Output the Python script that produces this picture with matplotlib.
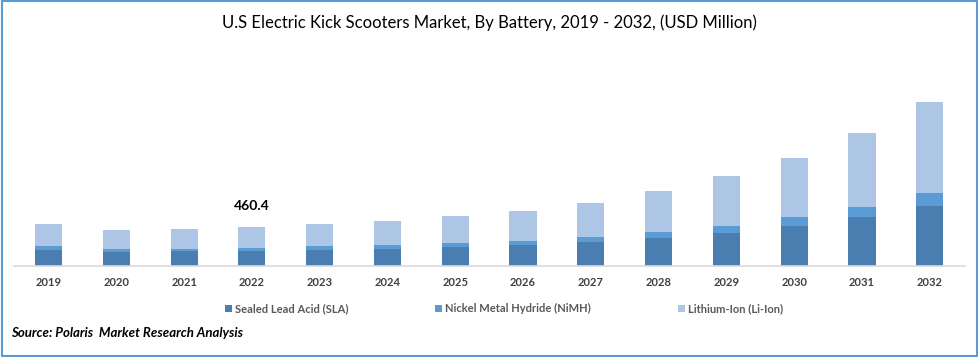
import numpy as np
import matplotlib
matplotlib.use("Agg")
import matplotlib.pyplot as plt
from matplotlib.patches import Rectangle

plt.rcParams['font.family'] = ['Lato', 'DejaVu Sans']

years = ['2019', '2020', '2021', '2022', '2023', '2024', '2025',
         '2026', '2027', '2028', '2029', '2030', '2031', '2032']
sla = [189, 165, 177, 177, 189, 201, 224, 248, 283, 330, 390, 472, 579, 708]
nimh = [47, 35, 24, 35, 47, 47, 47, 47, 59, 71, 83, 106, 118, 154]
li_ion = [260, 224, 236, 248.4, 260, 283, 319, 354, 401, 484, 590, 697, 874, 1075]
series_names = ['Sealed Lead Acid (SLA)', 'Nickel Metal Hydride (NiMH)', 'Lithium-Ion (Li-Ion)']
colors = ['#4A7EB0', '#5B9BD5', '#ADC6E5']
label_year = '2022'

fig = plt.figure(figsize=(9.79, 3.57), dpi=100)
ax = fig.add_axes([0.0143, 0.2549, 0.9714, 0.493])

x = np.arange(len(years))
w = 0.4
sla_a = np.array(sla)
nimh_a = np.array(nimh)
li_a = np.array(li_ion)
b1 = ax.bar(x, sla_a, w, color=colors[0], label=series_names[0])
b2 = ax.bar(x, nimh_a, w, bottom=sla_a, color=colors[1], label=series_names[1])
b3 = ax.bar(x, li_a, w, bottom=sla_a + nimh_a, color=colors[2], label=series_names[2])

# total label on 2022
i = years.index(label_year)
total = sla_a[i] + nimh_a[i] + li_a[i]
ax.text(x[i], total + 175, f'{total:.1f}', ha='center', va='bottom',
        fontsize=10, fontweight='bold', color='black')

ax.set_xlim(-0.51, 13.52)
ax.set_ylim(0, 2077)
ax.set_xticks(x)
ax.set_xticklabels(years, fontsize=8, fontweight='bold', color='#404040')
ax.tick_params(axis='x', length=0, pad=8)
ax.set_yticks([])
for s in ['top', 'right', 'left']:
    ax.spines[s].set_visible(False)
ax.spines['bottom'].set_color('#D9D9D9')
ax.spines['bottom'].set_linewidth(1.2)

fig.text(0.5, 0.935, 'U.S Electric Kick Scooters Market, By Battery, 2019 - 2032, (USD Million)',
         ha='center', va='center', fontsize=12, color='black')

leg = fig.legend(handles=[b1, b2, b3], loc='center', bbox_to_anchor=(0.515, 0.136),
                 ncol=3, frameon=False, fontsize=8, handlelength=0.6, handleheight=0.6,
                 handletextpad=0.3, columnspacing=7.8)
for t in leg.get_texts():
    t.set_color('#595959')
    t.set_fontweight('bold')

fig.text(0.011, 0.068, 'Source: Polaris  Market Research Analysis', ha='left', va='center',
         fontsize=9.5, fontweight='bold', fontstyle='italic', color='black')

fig.patches.append(Rectangle((0.002, 0.003), 0.996, 0.994, transform=fig.transFigure,
                             fill=False, edgecolor='#5B9BD5', linewidth=1.5))

fig.savefig('out.png', dpi=100)
